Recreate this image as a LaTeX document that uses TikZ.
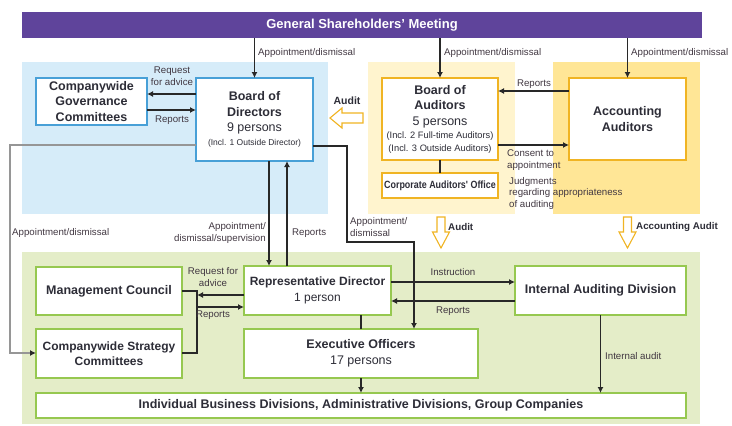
\documentclass[tikz,border=0pt]{standalone}
\usepackage{fontspec}
\setmainfont{Liberation Sans}
\newfontfamily\narrowsans[FakeStretch=0.85]{Liberation Sans}
\usetikzlibrary{arrows.meta,calc}
\definecolor{purp}{RGB}{95,68,155}
\definecolor{bluebg}{RGB}{214,236,249}
\definecolor{bluebd}{RGB}{72,160,215}
\definecolor{creambg}{RGB}{255,244,206}
\definecolor{yelbg}{RGB}{255,230,150}
\definecolor{yelbd}{RGB}{240,180,35}
\definecolor{greenbg}{RGB}{228,237,200}
\definecolor{greenbd}{RGB}{150,200,80}
\definecolor{txt}{RGB}{45,45,55}
\definecolor{lbltxt}{RGB}{65,55,65}
\definecolor{linec}{RGB}{40,40,40}
\definecolor{grayline}{RGB}{150,150,150}
\begin{document}
\begin{tikzpicture}[x=1pt,y=-1pt,
 region/.style={anchor=north west, inner sep=0pt, outer sep=0pt},
 box/.style={anchor=north west, draw, fill=white, line width=1.4pt, inner sep=1pt, outer sep=0pt, align=center, text=txt, font=\bfseries\fontsize{12.5}{15.5}\selectfont},
 bbox/.style={box, draw=bluebd},
 ybox/.style={box, draw=yelbd},
 gbox/.style={box, draw=greenbd},
 lbl/.style={inner sep=0pt, text=lbltxt, font=\fontsize{9.7}{11.5}\selectfont},
 blbl/.style={inner sep=0pt, text=txt, font=\bfseries\fontsize{9.8}{11.5}\selectfont},
 arr/.style={draw=linec, line width=1.2pt, -{Latex[length=6pt,width=6pt]}},
 conn/.style={draw=linec, line width=1.2pt},
 garr/.style={draw=grayline, line width=1.6pt, -{Latex[length=6pt,width=6pt,color=linec]}},
 hollow/.style={draw=yelbd, fill=white, line width=1.1pt, line join=miter}
]
\useasboundingbox (0,0) rectangle (732,426);

% bar and regions
\node[region, fill=purp, minimum width=680pt, minimum height=26pt, text=white, font=\bfseries\fontsize{13}{15}\selectfont] (gsm) at (22,12) {General Shareholders' Meeting};
\node[region, fill=bluebg, minimum width=306pt, minimum height=152pt] (bluereg) at (22,62) {};
\node[region, fill=creambg, minimum width=147pt, minimum height=152pt] (creamreg) at (368,62) {};
\node[region, fill=yelbg, minimum width=147pt, minimum height=152pt] (yelreg) at (553,62) {};
\node[region, fill=greenbg, minimum width=678pt, minimum height=172pt] (greenreg) at (22,252) {};

% boxes
\node[bbox, minimum width=111pt, minimum height=47pt] (cgc) at (36,78) {Companywide\\Governance\\Committees};
\node[bbox, minimum width=117pt, minimum height=83pt] (bod) at (196,78) {Board of\\Directors\\{\mdseries 9 persons}\\[-1.5pt]{\mdseries\fontsize{8.5}{10}\selectfont (Incl. 1 Outside Director)}};
\node[ybox, minimum width=116pt, minimum height=82pt] (boa) at (382,78) {Board of\\Auditors\\{\mdseries 5 persons}\\[-2pt]{\mdseries\fontsize{9.3}{11}\selectfont (Incl. 2 Full-time Auditors)}\\[-3pt]{\mdseries\fontsize{9.3}{11}\selectfont (Incl. 3 Outside Auditors)}};
\node[ybox, minimum width=116pt, minimum height=25pt, font=\bfseries\narrowsans\fontsize{10.5}{12}\selectfont] (cao) at (382,173) {Corporate Auditors' Office};
\node[ybox, minimum width=117pt, minimum height=82pt] (aa) at (569,78) {Accounting\\Auditors};

\node[gbox, minimum width=146pt, minimum height=48pt] (mc) at (36,267) {Management Council};
\node[gbox, minimum width=146pt, minimum height=49pt, font=\bfseries\fontsize{12}{15.5}\selectfont] (scs) at (36,329) {Companywide Strategy\\Committees};
\node[gbox, minimum width=147pt, minimum height=49pt, font=\bfseries\fontsize{12}{15.5}\selectfont] (rd) at (244,266) {Representative Director\\[1pt]{\mdseries 1 person}};
\node[gbox, minimum width=234pt, minimum height=49pt] (eo) at (244,329) {Executive Officers\\[0.5pt]{\mdseries 17 persons}};
\node[gbox, minimum width=171pt, minimum height=49pt] (iad) at (515,266) {Internal Auditing Division};
\node[gbox, minimum width=650pt, minimum height=25pt] (ibd) at (36,393) {Individual Business Divisions, Administrative Divisions, Group Companies};

% from General Shareholders' Meeting
\draw[arr] (gsm.south -| bod.north) -- (bod.north);
\node[lbl, anchor=west] (l1) at (258,53) {Appointment/dismissal};
\draw[arr] (gsm.south -| boa.north) -- (boa.north);
\node[lbl, anchor=west] (l2) at (444,53) {Appointment/dismissal};
\draw[arr] (gsm.south -| aa.north) -- (aa.north);
\node[lbl, anchor=west] (l3) at (631,53) {Appointment/dismissal};

% board of directors <-> governance committees
\draw[arr] (bod.west |- 0,94) -- (cgc.east |- 0,94);
\node[lbl, align=center] (l4) at (172,76) {Request\\for advice};
\draw[arr] (cgc.east |- 0,110) -- (bod.west |- 0,110);
\node[lbl] (l5) at (172,120) {Reports};

% audit (left)
\coordinate (auditL) at (330,118);
\draw[hollow] (auditL) -- ++(12,-10) -- ++(0,5) -- ++(21,0) -- ++(0,10) -- ++(-21,0) -- ++(0,5) -- cycle;
\node[blbl, font=\bfseries\fontsize{10.5}{12}\selectfont] (l6) at (347,101) {Audit};

% auditors
\draw[arr] (aa.west |- 0,91) -- (boa.east |- 0,91);
\node[lbl] (l7) at (534,84) {Reports};
\draw[arr] (boa.east |- 0,145) -- (aa.west |- 0,145);
\node[lbl, anchor=north west, align=left] (l8) at (507,150) {Consent to\\appointment};
\node[lbl, anchor=north west, align=left] (l9) at (509,177) {Judgments\\regarding appropriateness\\of auditing};
\draw[conn] (boa.south) -- (cao.north);

% board of directors <-> representative director
\draw[arr] (bod.south -| 269,0) -- (rd.north -| 269,0);
\node[lbl, anchor=east, align=right] (l10) at (266,233) {Appointment/\\dismissal/supervision};
\draw[arr] (rd.north -| 287,0) -- (bod.south -| 287,0);
\node[lbl, anchor=west] (l11) at (292,233) {Reports};

% gray: board of directors -> strategy committees
\draw[garr] (bod.west |- 0,145) -- ++(-186,0) |- (scs.west |- 0,353);
\node[lbl, anchor=west] (l12) at (12,233) {Appointment/dismissal};

% board of directors -> executive officers
\coordinate (c1) at (347,242);
\draw[arr] (bod.east |- 0,146) -| (c1) -| (eo.north -| 414,0);
\node[lbl, anchor=west, align=left] (l13) at (350,227) {Appointment/\\dismissal};

% audit arrows down
\coordinate (auditD) at (441,248);
\draw[hollow] (auditD) -- ++(-8.5,-16) -- ++(4.5,0) -- ++(0,-15) -- ++(8,0) -- ++(0,15) -- ++(4.5,0) -- cycle;
\node[blbl, anchor=west] (l14) at (448,227) {Audit};
\coordinate (accD) at (627.5,248);
\draw[hollow] (accD) -- ++(-8.5,-16) -- ++(4.5,0) -- ++(0,-15) -- ++(8,0) -- ++(0,15) -- ++(4.5,0) -- cycle;
\node[blbl, anchor=west] (l15) at (636,227) {Accounting Audit};

% management council / strategy committees bracket
\coordinate (brk) at (197,322);
\draw[conn] (mc.east |- 0,291) -| (brk) |- (scs.east |- 0,353);
\draw[arr] (rd.west |- 0,295) -- (brk |- 0,295);
\draw[arr] (brk |- 0,307) -- (rd.west |- 0,307);
\node[lbl, align=center] (l16) at (213,277) {Request for\\advice};
\node[lbl] (l17) at (213,315) {Reports};

% representative director -> executive officers -> divisions
\draw[conn] (rd.south -| 361,0) -- (eo.north -| 361,0);
\draw[arr] (eo.south -| 361,0) -- (ibd.north -| 361,0);

% internal auditing
\draw[arr] (rd.east |- 0,282) -- (iad.west |- 0,282);
\node[lbl] (l18) at (453,272) {Instruction};
\draw[arr] (iad.west |- 0,301) -- (rd.east |- 0,301);
\node[lbl] (l19) at (453,311) {Reports};
\draw[arr] (iad.south) -- (ibd.north -| iad.south);
\node[lbl, anchor=west] (l20) at (605,356) {Internal audit};
\end{tikzpicture}
\end{document}
